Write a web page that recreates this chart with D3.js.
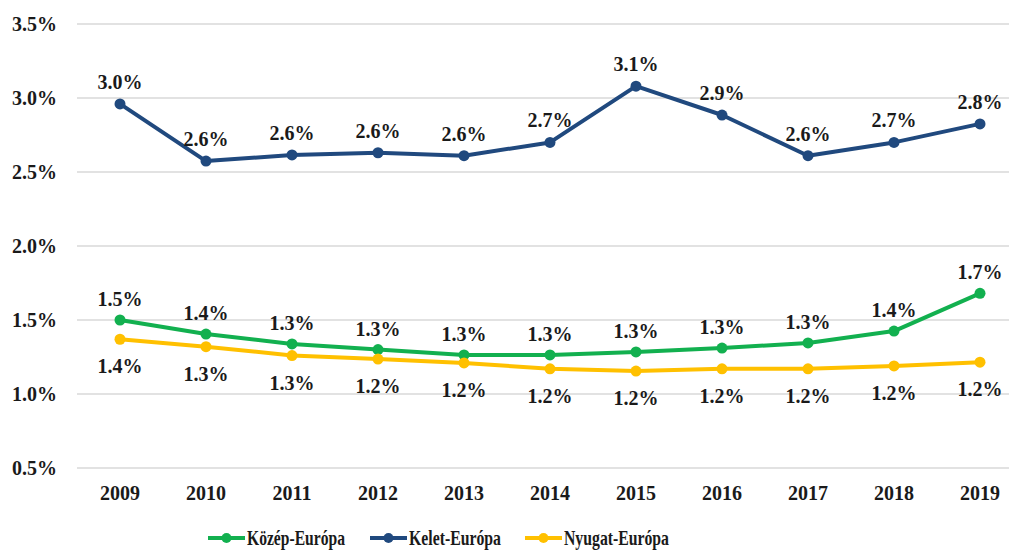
<!DOCTYPE html>
<html lang="hu">
<head>
  <meta charset="UTF-8">
  <title>Közép-, Kelet- és Nyugat-Európa</title>
  <script src="https://d3js.org/d3.v7.min.js"></script>
  <style>
    body { margin: 0; background: #fff; }
    svg text { font-family: "Liberation Serif", "Times New Roman", Tinos, "DejaVu Serif", serif; font-weight: bold; }
  </style>
</head>
<body>
  <svg width="1009" height="550"></svg>
  <script>
    // Data (percent values)
    const years = ["2009", "2010", "2011", "2012", "2013", "2014", "2015", "2016", "2017", "2018", "2019"];
    const kozepEuropa = [1.50, 1.405, 1.338, 1.30, 1.264, 1.264, 1.284, 1.31, 1.345, 1.425, 1.68];
    const keletEuropa = [2.96, 2.574, 2.615, 2.63, 2.61, 2.70, 3.08, 2.885, 2.61, 2.70, 2.825];
    const nyugatEuropa = [1.37, 1.32, 1.26, 1.236, 1.21, 1.17, 1.155, 1.17, 1.17, 1.19, 1.215];
    const yTicks = [0.5, 1.0, 1.5, 2.0, 2.5, 3.0, 3.5];

    const series = [
      { name: "Közép-Európa", values: kozepEuropa, color: "#12b04f", labelDy: -21 },
      { name: "Kelet-Európa", values: keletEuropa, color: "#20497e", labelDy: -22 },
      { name: "Nyugat-Európa", values: nyugatEuropa, color: "#ffc000", labelDy: 27 }
    ];

    const svg = d3.select("svg");
    const fmt = v => d3.format(".1f")(v) + "%";

    const x = d3.scaleBand().domain(years).range([77, 1023]);
    const y = d3.scaleLinear().domain([0.5, 3.5]).range([468, 24]);

    // gridlines
    svg.append("g")
      .selectAll("line")
      .data(yTicks)
      .join("line")
      .attr("x1", 77).attr("x2", 1009)
      .attr("y1", d => y(d)).attr("y2", d => y(d))
      .attr("stroke", "#d9d9d9")
      .attr("stroke-width", 1.5);

    // y axis labels
    svg.append("g")
      .selectAll("text")
      .data(yTicks)
      .join("text")
      .attr("x", 57)
      .attr("y", d => y(d))
      .attr("dy", "0.35em")
      .attr("text-anchor", "end")
      .attr("font-size", 20)
      .attr("fill", "#1a1a1a")
      .text(d => d.toFixed(1) + "%");

    // x axis labels
    svg.append("g")
      .selectAll("text")
      .data(years)
      .join("text")
      .attr("x", d => x(d) + x.bandwidth() / 2)
      .attr("y", 493)
      .attr("dy", "0.35em")
      .attr("text-anchor", "middle")
      .attr("font-size", 20)
      .attr("fill", "#1a1a1a")
      .text(d => d);

    const line = d3.line()
      .x((d, i) => x(years[i]) + x.bandwidth() / 2)
      .y(d => y(d));

    series.forEach(s => {
      const g = svg.append("g");
      g.append("path")
        .attr("d", line(s.values))
        .attr("fill", "none")
        .attr("stroke", s.color)
        .attr("stroke-width", 4)
        .attr("stroke-linejoin", "round");

      g.selectAll("circle")
        .data(s.values)
        .join("circle")
        .attr("cx", (d, i) => x(years[i]) + x.bandwidth() / 2)
        .attr("cy", d => y(d))
        .attr("r", 5.5)
        .attr("fill", s.color);

      g.selectAll("text")
        .data(s.values)
        .join("text")
        .attr("x", (d, i) => x(years[i]) + x.bandwidth() / 2)
        .attr("y", d => y(d) + s.labelDy)
        .attr("dy", "0.35em")
        .attr("text-anchor", "middle")
        .attr("font-size", 20)
        .attr("fill", "#1a1a1a")
        .text(d => fmt(d));
    });

    // legend
    const legendX = [208, 370, 525];
    const legendW = [98, 92, 105];
    const legend = svg.append("g");
    series.forEach((s, i) => {
      const lg = legend.append("g").attr("transform", `translate(${legendX[i]},538)`);
      lg.append("line")
        .attr("x1", 0).attr("x2", 37)
        .attr("stroke", s.color)
        .attr("stroke-width", 4);
      lg.append("circle")
        .attr("cx", 18.5).attr("r", 5)
        .attr("fill", s.color);
      lg.append("text")
        .attr("x", 39)
        .attr("dy", "0.35em")
        .attr("font-size", 21)
        .attr("fill", "#1a1a1a")
        .attr("textLength", legendW[i])
        .attr("lengthAdjust", "spacingAndGlyphs")
        .text(s.name);
    });
  </script>
</body>
</html>
